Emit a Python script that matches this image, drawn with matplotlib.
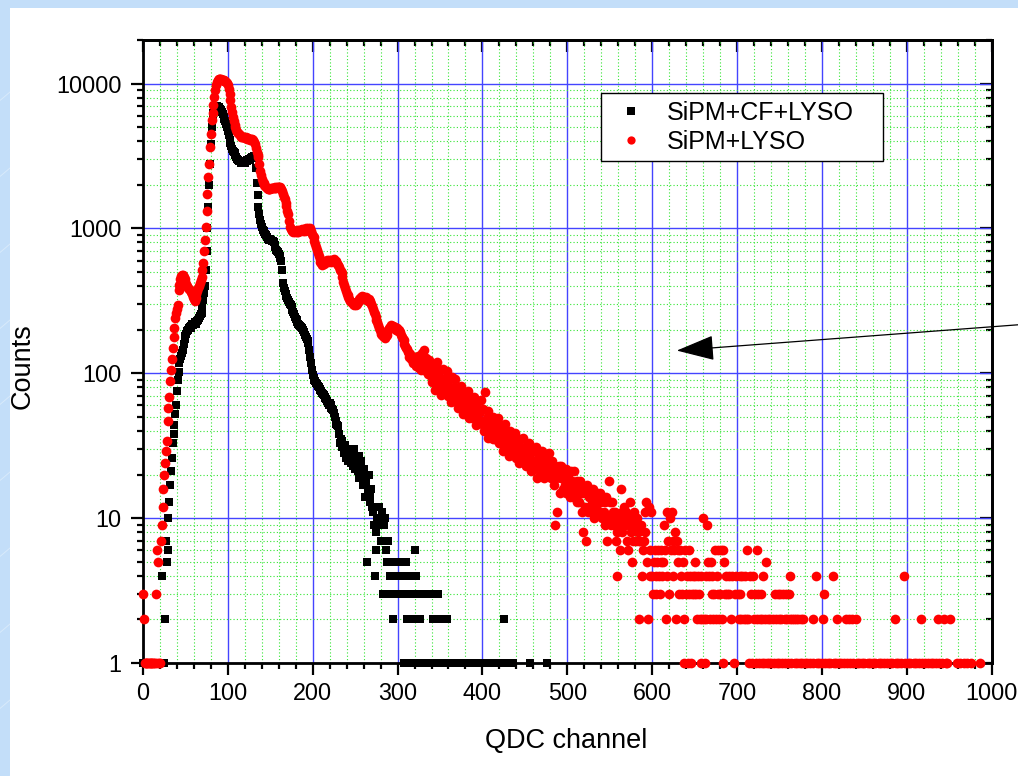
import numpy as np
import matplotlib
matplotlib.use("Agg")
import matplotlib.pyplot as plt
from matplotlib.lines import Line2D
from matplotlib.patches import Rectangle
from matplotlib.ticker import FixedLocator, MultipleLocator, LogLocator, NullFormatter

# Counts per QDC channel (index = channel number); 0 = empty bin
cf_lyso_counts = [
    # 0-99
    1, 1, 1, 1, 1, 1, 1, 1, 1, 1, 1, 1, 1, 1, 1, 1, 1, 1, 1, 1,
    1, 1, 4, 1, 1, 1, 2, 7, 5, 10, 6, 13, 17, 21, 26, 33, 38, 44, 52, 60,
    76, 90, 102, 118, 125, 131, 139, 145, 160, 172, 180, 188, 195, 198, 205, 210, 207, 212, 218, 214,
    220, 225, 218, 226, 230, 235, 240, 248, 255, 262, 290, 320, 360, 400, 520, 700, 1000, 1400, 2000, 2800,
    3800, 5000, 5800, 6300, 6600, 6800, 6900, 7000, 6900, 6850, 6800, 6700, 6600, 6400, 6200, 5900, 5700, 5500, 5300, 5000,
    # 100-199
    4700, 4400, 4100, 3900, 3700, 3550, 3400, 3350, 3300, 3200, 3100, 3000, 2950, 2900, 2900, 2850, 2850, 2900, 2850, 2900,
    2850, 2900, 2950, 2900, 2950, 3000, 2950, 3050, 3100, 3050, 3100, 3150, 3100, 2600, 2050, 1700, 1400, 1250, 1150, 1080,
    1020, 980, 960, 940, 920, 900, 870, 850, 830, 835, 840, 830, 825, 815, 800, 770, 740, 715, 700, 690,
    670, 650, 630, 600, 520, 420, 390, 370, 355, 340, 330, 320, 310, 303, 295, 285, 275, 265, 255, 245,
    238, 232, 225, 220, 215, 212, 208, 204, 200, 198, 192, 185, 178, 172, 166, 161, 145, 130, 118, 105,
    # 200-299
    98, 93, 90, 89, 86, 84, 82, 80, 78, 77, 75, 73, 72, 71, 69, 68, 66, 64, 62, 60,
    62, 60, 58, 57, 56, 53, 50, 47, 45, 44, 43, 38, 33, 35, 31, 34, 31, 28, 32, 26,
    29, 25, 30, 27, 26, 24, 28, 23, 25, 30, 22, 26, 24, 21, 27, 19, 23, 25, 20, 17,
    19, 22, 14, 18, 5, 16, 20, 13, 14, 16, 12, 11, 9, 4, 6, 8, 10, 9, 12, 10,
    9, 7, 11, 3, 9, 10, 6, 5, 3, 7, 5, 4, 3, 5, 4, 2, 3, 5, 4, 3,
    # 300-399
    5, 4, 3, 5, 4, 3, 5, 1, 4, 3, 5, 2, 4, 3, 1, 2, 4, 3, 2, 1,
    6, 2, 4, 3, 2, 1, 2, 3, 1, 0, 3, 1, 0, 3, 1, 0, 3, 1, 3, 0,
    1, 0, 2, 1, 0, 2, 1, 0, 3, 2, 1, 0, 2, 1, 0, 2, 1, 0, 2, 1,
    0, 1, 1, 0, 1, 0, 1, 1, 0, 1, 0, 1, 1, 0, 1, 0, 1, 1, 0, 1,
    0, 1, 1, 0, 1, 0, 1, 0, 1, 1, 0, 1, 0, 1, 1, 0, 1, 0, 1, 1,
    # 400-479
    0, 1, 0, 1, 1, 0, 1, 0, 1, 1, 0, 1, 0, 1, 0, 1, 1, 0, 1, 0,
    1, 1, 0, 1, 0, 2, 1, 0, 1, 0, 1, 1, 0, 1, 0, 0, 1, 0, 0, 0,
    0, 0, 0, 0, 0, 0, 0, 0, 0, 0, 0, 0, 0, 0, 0, 0, 1, 0, 0, 0,
    0, 0, 0, 0, 0, 0, 0, 0, 0, 0, 0, 0, 0, 0, 0, 0, 1, 0, 0, 0,
]

lyso_counts = [
    # 0-99
    3, 2, 1, 1, 1, 1, 1, 1, 1, 1, 1, 1, 1, 1, 1, 3, 1, 6, 5, 1,
    1, 7, 9, 12, 16, 20, 24, 29, 34, 47, 58, 69, 89, 105, 126, 150, 178, 205, 239, 260,
    280, 295, 375, 410, 450, 470, 480, 475, 460, 445, 430, 415, 400, 390, 380, 375, 370, 365, 350, 335,
    325, 318, 330, 350, 370, 385, 400, 420, 440, 460, 520, 575, 700, 830, 1020, 1310, 1740, 2280, 2800, 3650,
    4500, 5570, 6300, 7100, 8100, 9100, 9800, 10300, 10600, 10700, 10800, 10700, 10750, 10600, 10650, 10500, 10550, 10500, 10300, 10100,
    # 100-199
    9800, 9200, 8500, 7700, 6900, 6400, 5900, 5500, 5200, 5000, 4800, 4650, 4550, 4500, 4400, 4350, 4300, 4300, 4300, 4250,
    4200, 4250, 4200, 4150, 4200, 4150, 4100, 4150, 4150, 4100, 4050, 3950, 3850, 3600, 3350, 3200, 3100, 2800, 2500, 2350,
    2200, 2100, 2050, 2000, 1950, 1920, 1900, 1880, 1860, 1870, 1880, 1900, 1890, 1910, 1900, 1920, 1910, 1900, 1930, 1920,
    1940, 1920, 1900, 1880, 1800, 1720, 1650, 1600, 1500, 1420, 1330, 1260, 1130, 1020, 990, 970, 960, 950, 955, 950,
    960, 945, 970, 950, 980, 960, 975, 990, 960, 970, 985, 960, 1000, 980, 990, 1010, 995, 1000, 960, 920,
    # 200-299
    890, 870, 820, 780, 740, 710, 680, 650, 620, 590, 575, 560, 580, 570, 590, 585, 600, 605, 590, 610,
    600, 585, 610, 595, 605, 620, 600, 590, 600, 570, 560, 540, 520, 505, 490, 460, 430, 410, 390, 370,
    355, 345, 335, 325, 318, 312, 310, 305, 300, 295, 305, 298, 300, 310, 318, 325, 330, 335, 340, 338,
    337, 330, 325, 335, 320, 318, 325, 315, 310, 300, 290, 280, 265, 255, 245, 235, 225, 215, 205, 198,
    192, 188, 183, 180, 178, 175, 180, 185, 192, 198, 205, 210, 215, 212, 210, 212, 205, 210, 200, 205,
    # 300-399
    198, 196, 200, 192, 185, 178, 172, 169, 160, 155, 150, 146, 140, 137, 130, 135, 125, 130, 118, 122,
    118, 128, 112, 120, 131, 109, 124, 115, 106, 138, 121, 145, 112, 127, 104, 118, 99, 124, 108, 96,
    105, 87, 116, 94, 77, 105, 119, 86, 79, 94, 105, 71, 85, 107, 88, 75, 93, 80, 103, 70,
    74, 91, 80, 63, 94, 73, 81, 64, 92, 66, 74, 58, 81, 68, 61, 82, 67, 52, 73, 60,
    70, 54, 61, 76, 49, 64, 55, 68, 49, 58, 69, 51, 44, 60, 52, 64, 46, 54, 65, 45,
    # 400-499
    47, 57, 40, 74, 43, 49, 36, 55, 45, 39, 50, 41, 35, 50, 42, 35, 44, 37, 49, 33,
    40, 33, 44, 36, 29, 40, 45, 33, 30, 36, 40, 27, 32, 40, 33, 28, 35, 30, 39, 26,
    27, 33, 30, 24, 35, 28, 31, 25, 36, 26, 29, 23, 32, 27, 24, 33, 28, 21, 30, 25,
    29, 22, 25, 31, 19, 26, 23, 29, 20, 24, 29, 22, 19, 26, 23, 27, 20, 23, 28, 20,
    23, 19, 25, 21, 17, 23, 9, 19, 11, 21, 23, 15, 19, 23, 19, 16, 20, 17, 22, 15,
    # 500-599
    16, 20, 18, 14, 21, 16, 18, 14, 21, 15, 16, 13, 18, 15, 13, 18, 15, 11, 16, 8,
    15, 12, 7, 17, 11, 14, 12, 15, 11, 13, 16, 12, 10, 14, 12, 15, 11, 13, 15, 11,
    13, 10, 14, 11, 9, 13, 14, 7, 10, 18, 13, 9, 10, 13, 11, 9, 11, 7, 4, 8,
    10, 9, 6, 16, 11, 8, 10, 12, 9, 11, 7, 10, 6, 9, 13, 8, 5, 10, 7, 11,
    9, 7, 10, 8, 7, 2, 7, 9, 4, 6, 7, 11, 8, 13, 5, 2, 12, 4, 6, 11,
    # 600-699
    4, 3, 5, 6, 4, 3, 5, 6, 4, 3, 6, 5, 4, 5, 9, 6, 2, 11, 4, 7,
    3, 10, 6, 11, 4, 7, 6, 8, 2, 7, 6, 5, 3, 6, 4, 3, 5, 1, 2, 6,
    3, 4, 1, 3, 6, 4, 1, 3, 4, 3, 4, 5, 3, 2, 4, 3, 2, 4, 1, 2,
    10, 2, 1, 4, 2, 9, 5, 4, 2, 5, 3, 4, 2, 3, 6, 2, 4, 3, 6, 2,
    3, 6, 2, 1, 6, 5, 3, 4, 3, 0, 4, 3, 0, 2, 4, 0, 1, 0, 3, 4,
    # 700-799
    0, 3, 2, 4, 3, 2, 4, 0, 2, 4, 0, 2, 6, 2, 1, 4, 3, 0, 1, 4,
    2, 3, 1, 6, 2, 3, 1, 2, 3, 1, 2, 4, 1, 2, 5, 1, 2, 0, 1, 2,
    1, 0, 2, 1, 0, 3, 2, 1, 3, 2, 1, 3, 2, 1, 3, 0, 2, 1, 3, 2,
    1, 3, 2, 4, 1, 2, 0, 2, 1, 2, 0, 1, 2, 0, 1, 2, 0, 1, 2, 0,
    1, 0, 0, 1, 0, 0, 1, 0, 0, 2, 1, 0, 0, 4, 1, 0, 0, 1, 0, 0,
    # 800-899
    1, 2, 0, 3, 1, 0, 0, 1, 0, 0, 1, 0, 0, 4, 1, 0, 0, 1, 2, 0,
    1, 0, 0, 1, 0, 0, 1, 0, 2, 0, 1, 0, 2, 1, 0, 0, 2, 1, 0, 0,
    2, 1, 0, 0, 1, 0, 0, 1, 0, 0, 1, 0, 0, 0, 1, 0, 0, 1, 0, 0,
    1, 0, 0, 1, 0, 0, 0, 1, 0, 0, 1, 0, 0, 1, 0, 0, 0, 1, 0, 0,
    1, 0, 0, 1, 0, 0, 2, 1, 0, 0, 1, 0, 0, 1, 0, 0, 0, 4, 1, 0,
    # 900-989
    0, 1, 0, 0, 1, 0, 0, 0, 1, 0, 0, 1, 0, 0, 1, 0, 0, 2, 1, 0,
    0, 1, 0, 0, 0, 1, 0, 0, 1, 0, 0, 1, 0, 0, 1, 0, 0, 2, 1, 0,
    0, 1, 0, 0, 2, 0, 1, 0, 1, 0, 0, 2, 0, 0, 0, 0, 0, 0, 0, 1,
    0, 0, 0, 1, 0, 0, 0, 1, 0, 0, 0, 1, 0, 0, 0, 0, 1, 0, 0, 0,
    0, 0, 0, 0, 0, 0, 1, 0, 0, 0,
]

series_labels = ["SiPM+CF+LYSO", "SiPM+LYSO"]
x_label = "QDC channel"
y_label = "Counts"
y_major = [1, 10, 100, 1000, 10000]
y_major_labels = ["1", "10", "100", "1000", "10000"]

plt.rcParams["font.family"] = ["Liberation Sans", "DejaVu Sans"]

W, H = 1018, 776
fig = plt.figure(figsize=(W / 100, H / 100), dpi=100, facecolor="#c3def9")

# light-blue slide frame with faint diagonal streaks, white page on top
for x0 in range(-800, 1100, 90):
    fig.add_artist(Line2D([x0 / W, (x0 + 900) / W], [0, 760 / H], transform=fig.transFigure,
                          color="white", alpha=0.35, lw=0.7, zorder=-3))
fig.add_artist(Rectangle((10 / W, 0), 1, (H - 8) / H, transform=fig.transFigure,
                         facecolor="white", edgecolor="none", zorder=-2))

ax = fig.add_axes([143 / W, 113 / H, 848.6 / W, 623 / H])
ax.set_yscale("log")
ax.set_xlim(0, 1000)
ax.set_ylim(1, 20000)
ax.set_axisbelow(True)

cf = np.asarray(cf_lyso_counts, dtype=float)
ly = np.asarray(lyso_counts, dtype=float)
ch_cf = np.arange(cf.size)
ch_ly = np.arange(ly.size)
m_cf = cf > 0
m_ly = ly > 0

ax.plot(ch_cf[m_cf], cf[m_cf], ls="none", marker="s", ms=6.0, mew=0, color="black",
        label=series_labels[0], zorder=3, clip_on=False)
ax.plot(ch_ly[m_ly], ly[m_ly], ls="none", marker="o", ms=7.0, mew=0, color="#ff0000",
        label=series_labels[1], zorder=4, clip_on=False)

# ticks
ax.xaxis.set_major_locator(MultipleLocator(100))
ax.xaxis.set_minor_locator(MultipleLocator(20))
ax.yaxis.set_major_locator(FixedLocator(y_major))
ax.set_yticklabels(y_major_labels)
ax.yaxis.set_minor_locator(LogLocator(base=10, subs=np.arange(2, 10)))
ax.yaxis.set_minor_formatter(NullFormatter())
ax.tick_params(which="major", direction="out", length=8.6, width=1.6, labelsize=16.8,
               top=False, right=False)
ax.tick_params(axis="x", which="major", pad=5)
ax.tick_params(axis="y", which="major", pad=7)
ax.tick_params(which="minor", direction="out", length=4.3, width=1.6, top=False, right=False)

secx = ax.secondary_xaxis("top")
secx.xaxis.set_major_locator(MultipleLocator(100))
secx.xaxis.set_minor_locator(MultipleLocator(20))
secx.xaxis.set_major_formatter(NullFormatter())
secx.tick_params(which="major", direction="in", length=8.6, width=1.6)
secx.tick_params(which="minor", direction="in", length=4.3, width=1.6)

secy = ax.secondary_yaxis("right")
secy.yaxis.set_major_locator(FixedLocator(y_major))
secy.yaxis.set_minor_locator(LogLocator(base=10, subs=np.arange(2, 10)))
secy.yaxis.set_major_formatter(NullFormatter())
secy.yaxis.set_minor_formatter(NullFormatter())
secy.tick_params(which="major", direction="in", length=8.6, width=1.6)
secy.tick_params(which="minor", direction="in", length=4.3, width=1.6)

for a in (ax, secx, secy):
    for sp in a.spines.values():
        sp.set_linewidth(2.0)

# grid
ax.grid(True, which="minor", color="#33e633", ls=(0, (1, 2)), lw=0.8)
ax.grid(True, which="major", color="#4444ff", lw=1.0)

# labels
ax.set_xlabel(x_label, fontsize=19.5)
ax.xaxis.set_label_coords(0.499, -0.125)
ax.xaxis.label.set_verticalalignment("center")
ax.set_ylabel(y_label, fontsize=19.5)
ax.yaxis.set_label_coords(-0.1414, 0.4767)
ax.yaxis.label.set_verticalalignment("center")

leg = ax.legend(loc="upper left", bbox_to_anchor=(0.5397, 0.7978, 0.3329, 0.1167),
                mode="expand", borderaxespad=0, fontsize=18, frameon=True, fancybox=False,
                framealpha=1, edgecolor="black", borderpad=0.3, handlelength=1.8,
                handletextpad=0.55, labelspacing=0.2, markerscale=0.85)
leg.get_frame().set_linewidth(1.0)
leg.set_zorder(6)

# pointer arrow
ax.annotate("", xy=(629, 143.5), xytext=(1081, 227.5), xycoords="data", textcoords="data",
            annotation_clip=False,
            arrowprops=dict(arrowstyle="-|>,head_length=2.4,head_width=0.8", mutation_scale=10,
                            color="black", lw=0.9, shrinkA=0, shrinkB=0))

fig.savefig("out.png", dpi=100, facecolor=fig.get_facecolor())
